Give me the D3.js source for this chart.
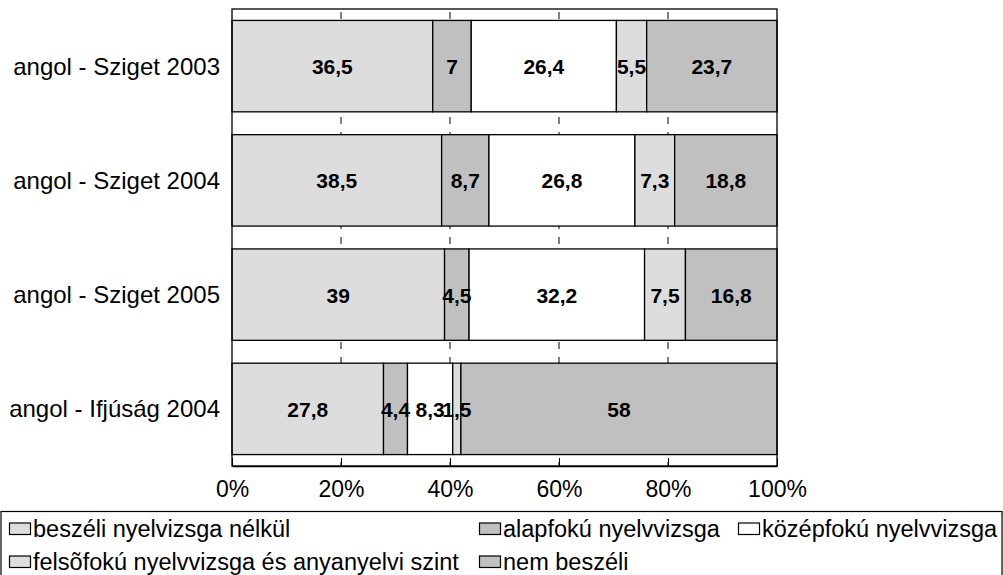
<!DOCTYPE html>
<html>
<head>
<meta charset="utf-8">
<script src="https://cdn.jsdelivr.net/npm/d3@7"></script>
<style>
  body { margin: 0; background: #fff; }
  svg { display: block; font-family: "Liberation Sans", Arial, sans-serif; }
</style>
</head>
<body>
<script>
// categories (top to bottom)
const categories = ["angol - Sziget 2003", "angol - Sziget 2004", "angol - Sziget 2005", "angol - Ifjúság 2004"];
// series names
const seriesNames = ["beszéli nyelvizsga nélkül", "alapfokú nyelvvizsga", "középfokú nyelvvizsga",
                     "felsõfokú nyelvvizsga és anyanyelvi szint", "nem beszéli"];
const seriesColors = ["#dddddd", "#c0c0c0", "#ffffff", "#dddddd", "#c0c0c0"];
// values per series, one per category
const beszeli = [36.5, 38.5, 39, 27.8];
const alapfoku = [7, 8.7, 4.5, 4.4];
const kozepfoku = [26.4, 26.8, 32.2, 8.3];
const felsofoku = [5.5, 7.3, 7.5, 1.5];
const nemBeszeli = [23.7, 18.8, 16.8, 58];
const tickValues = [0, 20, 40, 60, 80, 100];

const W = 1003, H = 575;
const margin = {top: 9, right: 226, bottom: 109, left: 232};
const width = W - margin.left - margin.right,
      height = H - margin.top - margin.bottom;

const svg = d3.select("body").append("svg")
    .attr("width", W).attr("height", H);

const chart = svg.append("g")
    .attr("transform", "translate(" + margin.left + "," + margin.top + ")");

const allSeries = [beszeli, alapfoku, kozepfoku, felsofoku, nemBeszeli];
const rows = categories.map(function(c, i){
    const row = {cat: c};
    allSeries.forEach(function(s, k){ row["s" + k] = s[i]; });
    return row;
});
const keys = allSeries.map(function(s, k){ return "s" + k; });
const stacked = d3.stack().keys(keys).offset(d3.stackOffsetExpand)(rows);

const xScale = d3.scaleLinear().domain([0, 1]).range([0, width]);
const yScale = d3.scaleBand().domain(categories).range([0, height]).paddingInner(0.2).paddingOuter(0.1);

// dashed gridlines behind bars
chart.append("g").selectAll("line")
    .data(tickValues.slice(1, -1))
    .enter().append("line")
    .attr("x1", function(d){ return xScale(d / 100); })
    .attr("x2", function(d){ return xScale(d / 100); })
    .attr("y1", 0).attr("y2", height)
    .attr("stroke", "#000").attr("stroke-width", 1)
    .attr("stroke-dasharray", "7,8")
    .attr("stroke-dashoffset", -3);

// bars
chart.selectAll(".layer")
    .data(stacked)
    .enter().append("g")
    .attr("fill", function(d, k){ return seriesColors[k]; })
    .selectAll("rect")
    .data(function(d){ return d; })
    .enter().append("rect")
    .attr("x", function(d){ return xScale(d[0]); })
    .attr("y", function(d){ return yScale(d.data.cat); })
    .attr("width", function(d){ return xScale(d[1]) - xScale(d[0]); })
    .attr("height", yScale.bandwidth())
    .attr("stroke", "#000").attr("stroke-width", 1.3);

// value labels
chart.selectAll(".vlayer")
    .data(stacked)
    .enter().append("g")
    .selectAll("text")
    .data(function(d){ return d.map(function(p){ return {p: p, key: d.key}; }); })
    .enter().append("text")
    .attr("x", function(d){ return (xScale(d.p[0]) + xScale(d.p[1])) / 2; })
    .attr("y", function(d){ return yScale(d.p.data.cat) + yScale.bandwidth() / 2 + 8; })
    .attr("text-anchor", "middle")
    .attr("font-size", "21px")
    .attr("font-weight", "bold")
    .text(function(d){ return String(d.p.data[d.key]).replace(".", ","); });

// plot frame
chart.append("rect")
    .attr("x", 0).attr("y", 0).attr("width", width).attr("height", height)
    .attr("fill", "none").attr("stroke", "#000").attr("stroke-width", 1.3);

// bottom axis
const xAxis = chart.append("g")
    .attr("transform", "translate(0," + height + ")")
    .call(d3.axisBottom(xScale)
        .tickValues(tickValues.map(function(d){ return d / 100; }))
        .tickSizeInner(-8).tickSizeOuter(0)
        .tickFormat(function(d){ return Math.round(d * 100) + "%"; }));
xAxis.select(".domain").attr("stroke-width", 1.3);
xAxis.selectAll("text").attr("font-size", "23px").attr("font-family", "Liberation Sans, Arial, sans-serif")
    .attr("fill", "#000").attr("y", 31).attr("dy", 0);

// category labels
chart.append("g").selectAll("text")
    .data(categories)
    .enter().append("text")
    .attr("x", -12)
    .attr("y", function(d){ return yScale(d) + yScale.bandwidth() / 2 + 8.5; })
    .attr("text-anchor", "end")
    .attr("font-size", "24px")
    .text(function(d){ return d; });

// legend
svg.append("rect")
    .attr("x", 1).attr("y", 511.5).attr("width", 1001).attr("height", 70)
    .attr("fill", "#fff").attr("stroke", "#000").attr("stroke-width", 1.2);

const legendPos = [[9, 537], [479, 537], [738, 537], [9, 570], [479, 570]];
const legend = svg.append("g").selectAll("g")
    .data(seriesNames)
    .enter().append("g")
    .attr("transform", function(d, i){ return "translate(" + legendPos[i][0] + "," + legendPos[i][1] + ")"; });
legend.append("rect")
    .attr("x", 0.5).attr("y", -14).attr("width", 21).attr("height", 11.5)
    .attr("fill", function(d, i){ return seriesColors[i]; })
    .attr("stroke", "#000").attr("stroke-width", 1.2);
legend.append("text")
    .attr("x", 24).attr("y", 0)
    .attr("font-size", "23.5px")
    .text(function(d){ return d; });
</script>
</body>
</html>
